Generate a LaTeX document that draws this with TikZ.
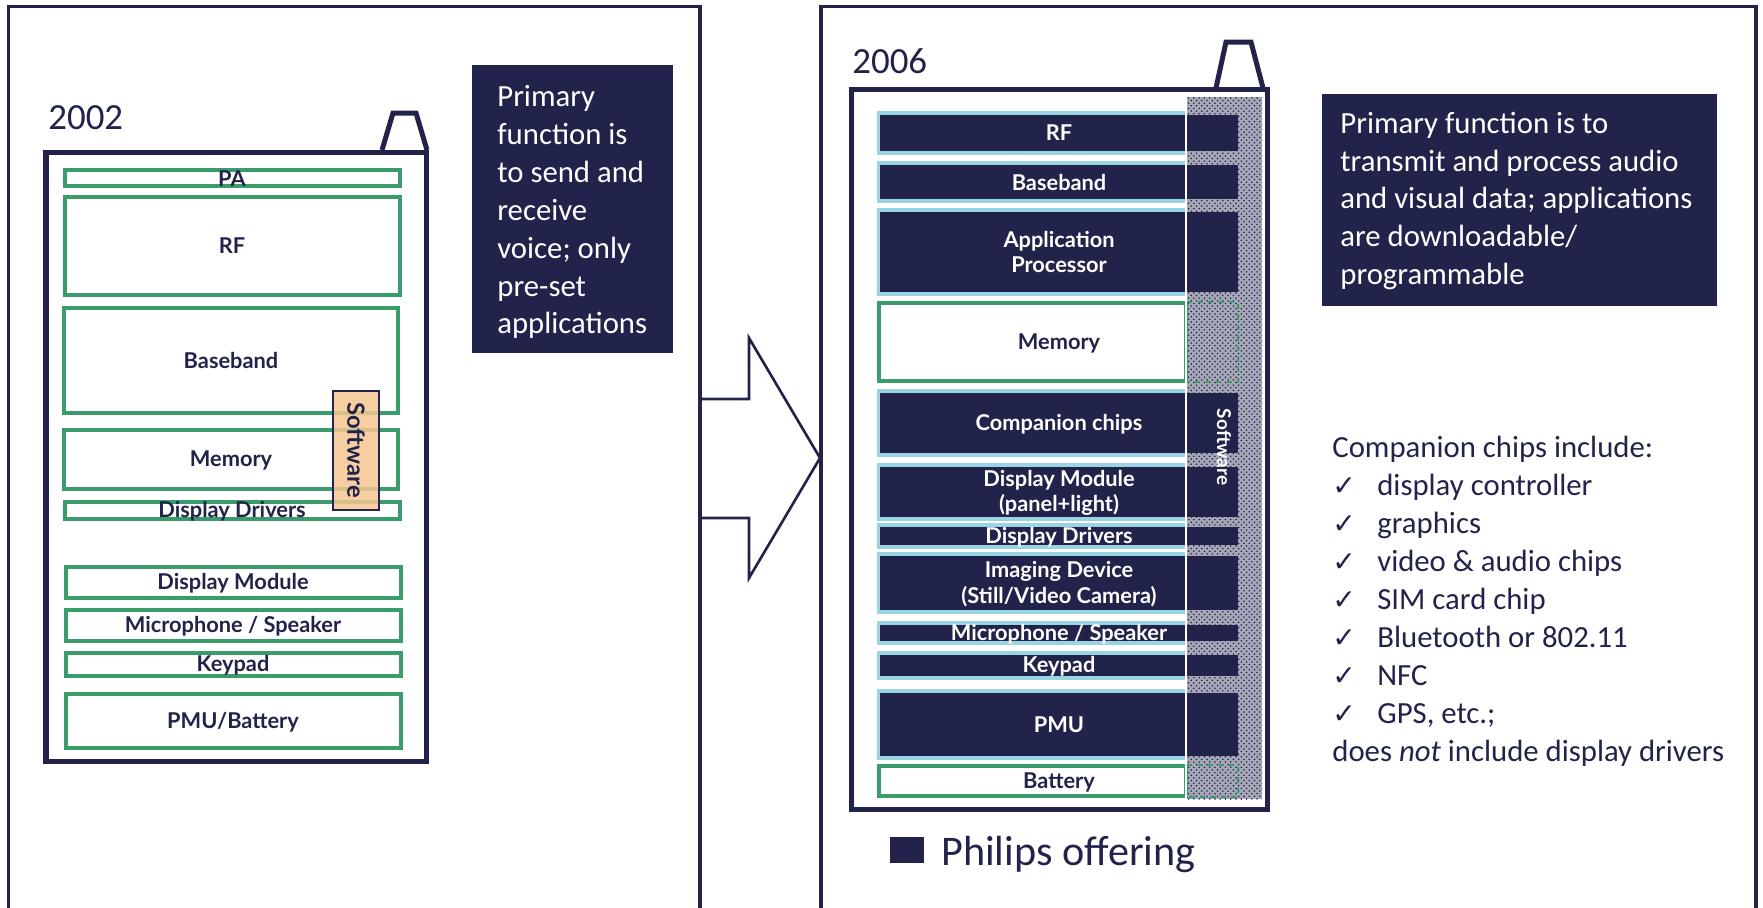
\documentclass[tikz,border=0pt]{standalone}
\usepackage{fontspec}
\setmainfont{Carlito}
\newfontfamily\chipfont{Lato}
\newfontfamily\symfont{DejaVu Sans}
\usetikzlibrary{patterns}

\definecolor{navy}{HTML}{21234B}
\definecolor{chipgreen}{HTML}{3A9B6B}
\definecolor{chipblue}{HTML}{99D4E4}
\definecolor{swOrange}{HTML}{F6C692}

\newcommand{\chk}{\makebox[25.6pt][l]{\symfont\fontsize{16}{16}\selectfont ✓}}

\tikzset{
  panel/.style={draw=navy, line width=1.9pt},
  phone/.style={draw=navy, line width=2.85pt},
  oldchip/.style={draw=chipgreen, line width=2pt, fill=white},
  newchip/.style={draw=chipgreen, line width=2.3pt, fill=white},
  oldlabel/.style={text=navy, align=center, font=\chipfont\bfseries\fontsize{12.4}{14.5}\selectfont},
  newlabel/.style={text=white, align=center, font=\chipfont\bfseries\fontsize{12.4}{14.5}\selectfont},
  note/.style={text=white, align=left, anchor=west, inner sep=0pt, font=\fontsize{17.5}{21.6}\selectfont},
  year/.style={text=navy, anchor=base west, inner sep=0pt, font=\fontsize{21}{21}\selectfont},
}

\begin{document}
\begin{tikzpicture}[x=0.02cm, y=-0.02cm]
  \useasboundingbox (0,0) rectangle (1763,907);

  % Panels
  \draw[panel] (8.5,920) |- (700,6.5) -- (700,920);
  \draw[panel] (821,920) |- (1756,6.5) -- (1756,920);

  % Phone 2002
  \node[year] (y2002) at (48,129) {2002};
  \draw[phone, fill=white] (46,152) rectangle (426,761);
  \draw[phone] (382,150) -- (393,113) -- (416,113) -- (427,150);

  \draw[oldchip] (65,170) rectangle (400,186);
  \node[oldlabel] (pa) at (232,179) {PA};
  \draw[oldchip] (65,197) rectangle (400,295);
  \node[oldlabel] (rf) at (232,246) {RF};
  \draw[oldchip] (64,308) rectangle (398,413);
  \node[oldlabel] (baseband) at (231,360) {Baseband};
  \draw[oldchip] (64,430) rectangle (398,489);
  \node[oldlabel] (memory) at (231,460) {Memory};
  \draw[oldchip] (65,502) rectangle (400,519);
  \node[oldlabel] (drivers) at (232,511) {Display Drivers};
  \draw[oldchip] (66,567) rectangle (401,598);
  \node[oldlabel] (module) at (233,583) {Display Module};
  \draw[oldchip] (66,610) rectangle (401,641);
  \node[oldlabel] (mic) at (233,626) {Microphone / Speaker};
  \draw[oldchip] (66,653) rectangle (401,676);
  \node[oldlabel] (keypad) at (233,665) {Keypad};
  \draw[oldchip] (66,694) rectangle (401,748);
  \node[oldlabel] (pmu) at (233,722) {PMU/Battery};

  % Software overlay
  \draw[navy, line width=1.5pt, fill=swOrange, fill opacity=0.85] (333,391) rectangle (379,510);
  \node[text=navy, rotate=-90, font=\chipfont\bfseries\fontsize{13.5}{13.5}\selectfont] (sw1) at (356,450) {Software};

  % Description 2002
  \fill[navy] (472,65) rectangle (673,353);
  \node[note] (desc1) at (497,212) {Primary\\function is\\to send and\\receive\\voice; only\\pre-set\\applications};

  % Arrow
  \draw[navy, line width=1.5pt, line join=miter] (700,399) -- (749,399) -- (749,338) -- (820,458) -- (749,578) -- (749,518) -- (700,518);

  % Phone 2006
  \node[year] (y2006) at (852,73) {2006};
  \draw[phone, fill=white] (851.5,89.5) rectangle (1267.5,809.5);
  \draw[phone] (1216,88) -- (1226,42) -- (1251,42) -- (1263,88);

  % Software column
  \fill[navy!40!white] (1187,97) rectangle (1262,799);
  \fill[pattern=crosshatch dots, pattern color=navy] (1187,97) rectangle (1262,799);

  \fill[chipblue] (877,111) rectangle (1186,155);
  \fill[navy] (880,115) rectangle (1238,151);
  \node[newlabel] (rf2) at (1059,133) {RF};

  \fill[chipblue] (877,161) rectangle (1186,203);
  \fill[navy] (880,165) rectangle (1238,199);
  \node[newlabel] (baseband2) at (1059,182) {Baseband};

  \fill[chipblue] (877,208) rectangle (1186,296);
  \fill[navy] (880,212) rectangle (1238,292);
  \node[newlabel] (app) at (1059,252) {Application\\Processor};

  \draw[newchip] (879,303) rectangle (1186,381);
  \node[oldlabel] (memory2) at (1059,343) {Memory};

  \fill[chipblue] (877,389) rectangle (1186,457);
  \fill[navy] (880,393) rectangle (1238,453);
  \node[newlabel] (companion) at (1059,424) {Companion chips};

  \fill[chipblue] (877,463) rectangle (1186,521);
  \fill[navy] (880,467) rectangle (1238,517);
  \node[newlabel] (module2) at (1059,493) {Display Module\\(panel+light)};

  \fill[chipblue] (877,523) rectangle (1186,549);
  \fill[navy] (880,527) rectangle (1238,545);
  \node[newlabel] (drivers2) at (1059,537) {Display Drivers};

  \fill[chipblue] (877,552) rectangle (1186,614);
  \fill[navy] (880,556) rectangle (1238,610);
  \node[newlabel] (imaging) at (1059,584) {Imaging Device\\(Still/Video Camera)};

  \fill[chipblue] (877,621) rectangle (1186,645);
  \fill[navy] (880,625) rectangle (1238,641);
  \node[newlabel] (mic2) at (1059,634) {Microphone / Speaker};

  \fill[chipblue] (877,651) rectangle (1186,680);
  \fill[navy] (880,655) rectangle (1238,676);
  \node[newlabel] (keypad2) at (1059,666) {Keypad};

  \fill[chipblue] (877,689) rectangle (1186,760);
  \fill[navy] (880,693) rectangle (1238,756);
  \node[newlabel] (pmu2) at (1059,725) {PMU};

  \draw[newchip] (879,766) rectangle (1186,796);
  \node[oldlabel] (battery) at (1059,782) {Battery};

  % Memory and battery seen through the software column
  \draw[chipgreen, line width=1.2pt, dashed] (1187,302) -| (1238,382) -- (1187,382);
  \draw[chipgreen, line width=1.2pt, dashed] (1187,765) -| (1238,797) -- (1187,797);

  \draw[white, line width=1.2pt] (1186,92) -- (1186,800);
  \node[text=white, rotate=-90, font=\chipfont\bfseries\fontsize{10.8}{10.8}\selectfont] (sw2) at (1224,447) {Software};

  % Description 2006
  \fill[navy] (1322,94) rectangle (1717,306);
  \node[note] (desc2) at (1340,201) {Primary function is to\\transmit and process audio\\and visual data; applications\\are downloadable/\\programmable};

  % Companion chips list
  \node[note, text=navy] (list) at (1332,601) {Companion chips include:\\
    \chk display controller\\
    \chk graphics\\
    \chk video \& audio chips\\
    \chk SIM card chip\\
    \chk Bluetooth or 802.11\\
    \chk NFC\\
    \chk GPS, etc.;\\
    does \emph{not} include display drivers};

  % Legend
  \fill[navy] (890,837) rectangle (924,863);
  \node[text=navy, anchor=base west, inner sep=0pt, font=\fontsize{24}{24}\selectfont] (legend) at (941,865) {Philips offering};
\end{tikzpicture}
\end{document}
